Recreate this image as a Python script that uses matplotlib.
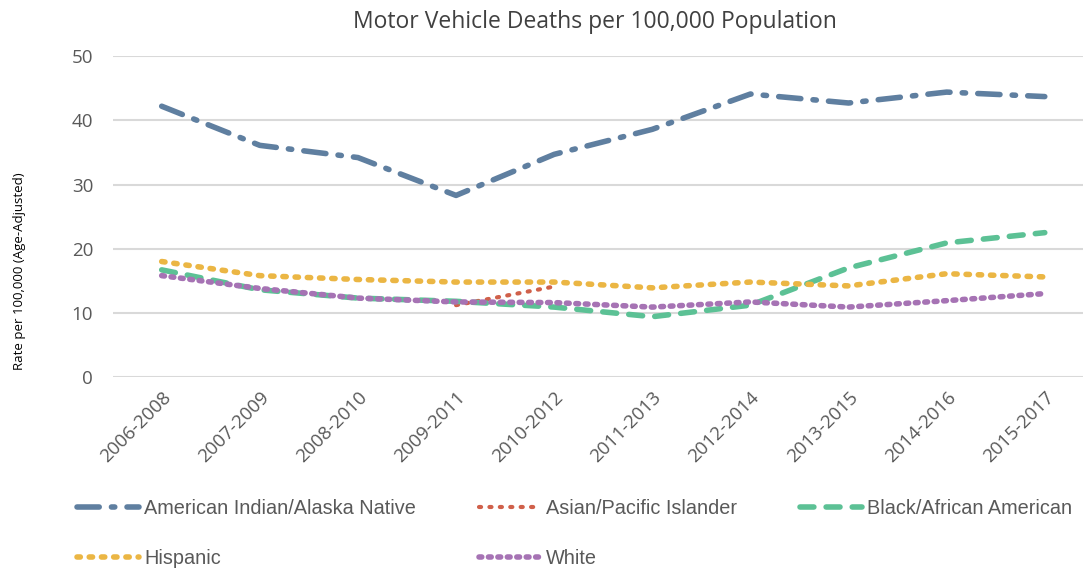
import numpy as np
import matplotlib.pyplot as plt

plt.rcParams['font.family'] = ['Open Sans', 'DejaVu Sans']

# Data
periods = ['2006-2008', '2007-2009', '2008-2010', '2009-2011', '2010-2012',
           '2011-2013', '2012-2014', '2013-2015', '2014-2016', '2015-2017']
aian = [42.2, 36.1, 34.2, 28.3, 34.7, 38.6, 44.1, 42.7, 44.4, 43.7]
asian = [np.nan, np.nan, np.nan, 11.2, 14.1, np.nan, np.nan, np.nan, np.nan, np.nan]
black = [16.7, 13.6, 12.3, 11.8, 10.9, 9.4, 11.2, 17.0, 20.9, 22.5]
hispanic = [18.0, 15.8, 15.2, 14.8, 14.8, 13.9, 14.8, 14.2, 16.1, 15.6]
white = [15.8, 13.8, 12.3, 11.7, 11.6, 10.9, 11.7, 10.9, 11.9, 13.0]

fig = plt.figure(figsize=(10.83, 5.73), dpi=100)
ax = fig.add_axes([0.104, 0.342, 0.906, 0.56])
x = np.arange(len(periods))

lw = 4
h1, = ax.plot(x, aian, color='#5f7fa0', lw=lw, dashes=(4, 2.2, 0.6, 2.2), dash_capstyle='round',
              label='American Indian/Alaska Native')
h2, = ax.plot(x, asian, color='#d0604a', lw=3, dashes=(0.5, 2.0), dash_capstyle='round',
              label='Asian/Pacific Islander')
h3, = ax.plot(x, black, color='#5cc195', lw=lw, dashes=(2.5, 2.2), dash_capstyle='round',
              label='Black/African American')
h4, = ax.plot(x, hispanic, color='#ebb644', lw=lw, dashes=(0.6, 1.6), dash_capstyle='round',
              label='Hispanic')
h5, = ax.plot(x, white, color='#a673b4', lw=lw, dashes=(0.5, 1.2), dash_capstyle='round',
              label='White')

ax.set_xlim(-0.5, 9.5)
ax.set_ylim(0, 50)
ax.set_yticks(range(0, 51, 10))
ax.set_xticks(x)
ax.set_xticklabels(periods, rotation=45, ha='right', rotation_mode='anchor')
ax.tick_params(axis='both', length=0, labelsize=13.5, colors='#595959')
ax.tick_params(axis='x', pad=8)
ax.tick_params(axis='y', pad=14)
ax.grid(axis='y', color='#d9d9d9', lw=1.5)
ax.set_axisbelow(True)
for s in ax.spines.values():
    s.set_visible(False)

ax.set_title('Motor Vehicle Deaths per 100,000 Population', fontsize=16.5,
             color='#404040', pad=20, x=0.492)
ax.set_ylabel('Rate per 100,000 (Age-Adjusted)', fontsize=9.5, color='#000000')
ax.yaxis.set_label_coords(-0.088, 0.33)

# row-major order for a 3-column legend
handles = [h1, h4, h2, h5, h3]
fig.legend(handles=handles, labels=[h.get_label() for h in handles],
           loc='lower left', bbox_to_anchor=(0.055, -0.022), ncol=3, frameon=False,
           labelcolor='#595959', handlelength=3.1, handletextpad=0.25,
           columnspacing=3.2, labelspacing=1.55,
           prop={'family': 'Liberation Sans', 'size': 14.3})

fig.savefig('out.png', dpi=100)
